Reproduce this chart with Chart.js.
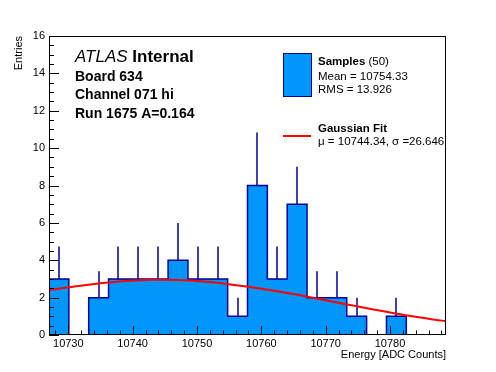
<!DOCTYPE html>
<html>
<head>
<meta charset="utf-8">
<script src="https://cdn.jsdelivr.net/npm/chart.js@4.4.1/dist/chart.umd.min.js"></script>
<style>
  html, body { margin: 0; padding: 0; background: #fff; }
  #wrap { width: 496px; height: 372px; }
</style>
</head>
<body>
<div id="wrap"><canvas id="histo"></canvas></div>
<script>
// histogram range and bin contents
const xLow = 10727;
const xHigh = 10788.7;
const counts = [3, 0, 2, 3, 3, 3, 4, 3, 3, 1, 8, 3, 7, 2, 2, 1, 0, 1, 0, 0];
// upper end of each error bar
const errTop = [4.73, 0, 3.41, 4.73, 4.73, 4.73, 6.0, 4.73, 4.73, 2.0, 10.83, 4.73, 9.0, 3.41, 3.41, 2.0, 0, 2.0, 0, 0];

// gaussian fit curve
const fitX = [10727, 10731, 10735, 10739, 10743, 10747, 10751, 10755, 10759, 10763, 10767, 10771, 10775, 10779, 10783, 10787, 10788.7];
const fitY = [2.39, 2.6, 2.77, 2.89, 2.95, 2.94, 2.86, 2.72, 2.53, 2.31, 2.06, 1.79, 1.52, 1.27, 1.03, 0.82, 0.74];

const xTicks = [10730, 10740, 10750, 10760, 10770, 10780];
const yTicks = [0, 2, 4, 6, 8, 10, 12, 14, 16];

const fillBlue = "#0096fa";
const lineBlue = "#000099";
const fontFam = "'Liberation Sans', Arial, Helvetica, sans-serif";

const binW = (xHigh - xLow) / counts.length;
const edges = counts.map((_, i) => xLow + i * binW);
const histPoints = counts.map((c, i) => ({ x: edges[i], y: c }));
histPoints.push({ x: xHigh, y: counts[counts.length - 1] });

const fitPoints = fitX.map((v, i) => ({ x: v, y: fitY[i] }));

// ROOT style frame: box, inward ticks, error bars, labels
const rootStyle = {
  id: "rootStyle",
  afterDatasetDraw(chart, args) {
    if (args.index !== 0) return;
    const { ctx, scales: { x, y } } = chart;
    ctx.save();
    ctx.strokeStyle = lineBlue;
    ctx.lineWidth = 1.5;
    counts.forEach((c, i) => {
      if (!c) return;
      const px = Math.round(x.getPixelForValue(edges[i] + binW / 2));
      ctx.beginPath();
      ctx.moveTo(px, y.getPixelForValue(c));
      ctx.lineTo(px, y.getPixelForValue(errTop[i]));
      ctx.stroke();
    });
    ctx.restore();
  },
  afterDatasetsDraw(chart) {
    const { ctx, chartArea: a, scales: { x, y } } = chart;
    ctx.save();
    ctx.strokeStyle = "#000";
    ctx.lineWidth = 1;
    ctx.strokeRect(a.left + 0.5, a.top + 0.5, a.right - a.left - 1, a.bottom - a.top - 1);
    ctx.beginPath();
    // x ticks: major every 10, minor every 2
    for (let v = 10728; v <= xHigh; v += 2) {
      const px = Math.round(x.getPixelForValue(v)) + 0.5;
      const len = v % 10 === 0 ? 9 : 4.5;
      ctx.moveTo(px, a.bottom);
      ctx.lineTo(px, a.bottom - len);
    }
    // y ticks: major every 2, minor every 0.5
    for (let v = 0; v <= 16; v += 0.5) {
      const py = Math.round(y.getPixelForValue(v)) + 0.5;
      const len = v % 2 === 0 ? 10 : 5;
      ctx.moveTo(a.left, py);
      ctx.lineTo(a.left + len, py);
    }
    ctx.stroke();
    ctx.restore();
  },
  afterDraw(chart) {
    const ctx = chart.ctx;
    ctx.save();
    ctx.fillStyle = "#000";
    ctx.textBaseline = "middle";
    ctx.textAlign = "left";

    ctx.font = "italic 17px " + fontFam;
    ctx.fillText("ATLAS", 75, 57);
    const w = ctx.measureText("ATLAS ").width;
    ctx.font = "bold 17px " + fontFam;
    ctx.fillText("Internal", 75 + w, 57);

    ctx.font = "bold 14px " + fontFam;
    ctx.fillText("Board 634", 75, 77);
    ctx.fillText("Channel 071 hi", 75, 95);
    ctx.fillText("Run 1675 A=0.164", 75, 114);

    // legend
    ctx.fillStyle = fillBlue;
    ctx.fillRect(283, 53, 28, 43);
    ctx.strokeStyle = lineBlue;
    ctx.lineWidth = 1;
    ctx.strokeRect(283.5, 53.5, 28, 43);
    ctx.strokeStyle = "#ff0000";
    ctx.lineWidth = 2;
    ctx.beginPath();
    ctx.moveTo(283, 136);
    ctx.lineTo(311, 136);
    ctx.stroke();

    ctx.fillStyle = "#000";
    ctx.font = "bold 11.5px " + fontFam;
    ctx.fillText("Samples", 318, 62);
    const sw = ctx.measureText("Samples ").width;
    ctx.font = "11.5px " + fontFam;
    ctx.fillText("(50)", 318 + sw, 62);
    ctx.fillText("Mean = 10754.33", 318, 77);
    ctx.fillText("RMS = 13.926", 318, 90);
    ctx.font = "bold 11.5px " + fontFam;
    ctx.fillText("Gaussian Fit", 318, 129);
    ctx.font = "11.5px " + fontFam;
    ctx.fillText("\u03bc = 10744.34, \u03c3 =26.646", 318, 142);
    ctx.restore();
  }
};

Chart.defaults.font.family = fontFam;
Chart.defaults.color = "#000";

new Chart(document.getElementById("histo"), {
  type: "line",
  data: {
    datasets: [
      {
        label: "Samples",
        data: histPoints,
        stepped: "before",
        fill: "origin",
        backgroundColor: fillBlue,
        borderColor: lineBlue,
        borderWidth: 1.5,
        pointRadius: 0,
        order: 2
      },
      {
        label: "Gaussian Fit",
        data: fitPoints,
        borderColor: "#ff0000",
        borderWidth: 2,
        pointRadius: 0,
        tension: 0.4,
        fill: false,
        order: 1
      }
    ]
  },
  options: {
    responsive: true,
    maintainAspectRatio: false,
    animation: false,
    layout: { padding: { top: 36, right: 50, left: 0, bottom: 0 } },
    plugins: {
      legend: { display: false },
      tooltip: { enabled: false }
    },
    scales: {
      x: {
        type: "linear",
        min: xLow,
        max: xHigh,
        afterBuildTicks: (s) => { s.ticks = xTicks.map((v) => ({ value: v })); },
        afterFit: (s) => { s.height = 37; },
        grid: { display: false, drawTicks: false },
        border: { display: false },
        ticks: { padding: 2, font: { size: 11 }, maxRotation: 0, autoSkip: false, callback: (v) => String(v) },
        title: {
          display: true,
          text: "Energy [ADC Counts]",
          align: "end",
          font: { size: 11 },
          padding: { top: 0, bottom: 10 }
        }
      },
      y: {
        min: 0,
        max: 16,
        afterBuildTicks: (s) => { s.ticks = yTicks.map((v) => ({ value: v })); },
        afterFit: (s) => { s.width = 49; },
        grid: { display: false, drawTicks: false },
        border: { display: false },
        ticks: { padding: 4, font: { size: 11 }, callback: (v) => String(v) },
        title: {
          display: true,
          text: "Entries",
          align: "end",
          font: { size: 11 },
          padding: { top: 12, bottom: 0 }
        }
      }
    }
  },
  plugins: [rootStyle]
});
</script>
</body>
</html>
